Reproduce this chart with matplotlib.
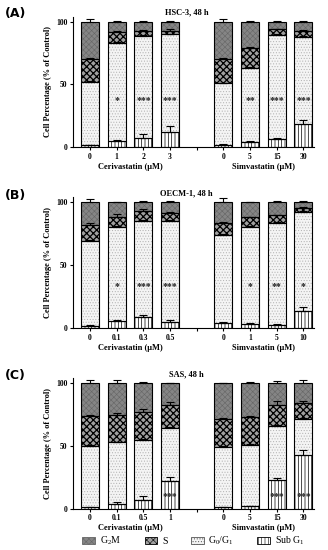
import matplotlib
matplotlib.use("Agg")
import matplotlib.pyplot as plt
import matplotlib.transforms as mtransforms
from matplotlib.patches import Patch
import numpy as np

plt.rcParams["font.family"] = ["Liberation Serif", "DejaVu Serif"]
plt.rcParams["mathtext.default"] = "regular"
plt.rcParams["hatch.linewidth"] = 0.4

positions = [0, 1, 2, 3, 5, 6, 7, 8]

# panel A: HSC-3
title_a = "HSC-3, 48 h"
cer_a = ["0", "1", "2", "3"]
sim_a = ["0", "5", "15", "30"]
sub_a = [1.5, 4.5, 7.5, 12.0, 2.0, 4.0, 6.5, 18.0]
g1_a = [50.5, 78.5, 81.5, 78.0, 49.0, 59.0, 83.0, 70.0]
s_a = [18.0, 8.5, 3.5, 3.0, 19.5, 16.0, 4.5, 5.0]
g2m_a = [30.0, 8.5, 7.5, 7.0, 29.5, 21.0, 6.0, 7.0]
sub_err_a = [0.5, 0.8, 2.5, 4.5, 0.4, 0.6, 0.5, 3.5]
g1_err_a = [0.8, 0.5, 0.5, 0.5, 0.4, 0.5, 0.5, 0.5]
s_err_a = [0.8, 1.0, 0.8, 1.5, 0.5, 1.0, 0.5, 0.5]
g2m_err_a = [2.0, 0.5, 0.3, 0.3, 2.0, 0.5, 0.5, 0.3]
stars_a = ["", "*", "***", "***", "", "**", "***", "***"]

# panel B: OECM-1
title_b = "OECM-1, 48 h"
cer_b = ["0", "0.1", "0.3", "0.5"]
sim_b = ["0", "1", "5", "10"]
sub_b = [2.0, 5.5, 8.5, 5.0, 4.0, 3.5, 2.5, 13.5]
g1_b = [67.0, 75.0, 76.5, 80.0, 70.0, 77.0, 81.0, 78.5]
s_b = [12.5, 8.0, 8.0, 6.0, 9.0, 7.5, 6.0, 3.0]
g2m_b = [18.5, 11.5, 7.0, 9.0, 17.0, 12.0, 10.5, 5.0]
sub_err_b = [0.3, 0.5, 1.5, 1.0, 0.8, 0.8, 0.3, 3.0]
g1_err_b = [0.8, 0.5, 0.5, 0.5, 0.5, 0.5, 0.8, 0.5]
s_err_b = [1.5, 2.0, 1.5, 0.8, 0.8, 0.5, 0.5, 0.8]
g2m_err_b = [2.5, 0.3, 1.0, 0.5, 3.0, 0.3, 0.5, 0.8]
stars_b = ["", "*", "***", "***", "", "*", "**", "*"]

# panel C: SAS
title_c = "SAS, 48 h"
cer_c = ["0", "0.1", "0.5", "1"]
sim_c = ["0", "5", "15", "30"]
sub_c = [1.0, 3.5, 7.0, 22.0, 1.0, 2.0, 23.0, 42.5]
g1_c = [49.0, 49.5, 48.0, 42.5, 48.5, 49.0, 43.0, 29.0]
s_c = [24.0, 22.0, 22.0, 18.5, 22.0, 22.0, 17.0, 13.0]
g2m_c = [26.0, 25.0, 23.0, 17.0, 28.5, 27.0, 17.0, 15.5]
sub_err_c = [0.3, 1.5, 3.0, 3.0, 0.3, 0.5, 1.5, 4.0]
g1_err_c = [0.5, 0.5, 1.0, 1.0, 0.5, 0.5, 1.0, 0.5]
s_err_c = [1.0, 1.0, 2.5, 2.0, 1.0, 1.0, 3.0, 1.5]
g2m_err_c = [2.5, 3.0, 1.0, 0.5, 0.5, 0.8, 1.5, 2.5]
stars_c = ["", "", "", "***", "", "", "***", "***"]

# segment styles: (face, hatch, hatch colour, hatch width)
styles = [
    ("white", "|||||", "black", 0.5),       # Sub G1
    ("#f4f4f4", "......", "#b0b0b0", 0.4),  # G0/G1
    ("#a0a0a0", "xxxxx", "black", 0.9),     # S
    ("#858585", "xxxxxx", "#666666", 0.4),  # G2M
]

W = 0.68


def set_hw(artist, hw):
    if hasattr(artist, "set_hatch_linewidth"):
        artist.set_hatch_linewidth(hw)


def draw_panel(ax, title, cer, sim, segs, errs, stars, star_y):
    x = np.array(positions, dtype=float)
    bottom = np.zeros(len(x))
    tops = []
    for seg, (fc, hatch, hc, hw) in zip(segs, styles):
        seg = np.array(seg)
        with plt.rc_context({"hatch.linewidth": hw}):
            bars = ax.bar(x, seg, W, bottom=bottom, color=fc, hatch=hatch,
                          edgecolor=hc, linewidth=0, zorder=2)
        for b in bars:
            set_hw(b, hw)
        ax.bar(x, seg, W, bottom=bottom, fill=False, edgecolor="black",
               linewidth=0.8, zorder=3)
        bottom = bottom + seg
        tops.append(bottom.copy())
    for top, err in zip(tops, errs):
        ax.errorbar(x, top, yerr=[np.zeros(len(x)), err], fmt="none",
                    ecolor="black", elinewidth=0.8, capsize=3, capthick=0.8,
                    zorder=4)
    for xi, st in zip(x, stars):
        if st:
            ax.text(xi, star_y, st, ha="center", va="center", fontsize=7,
                    fontweight="bold", color="#222222", zorder=5)

    ax.set_xlim(-0.64, 8.4)
    ax.set_ylim(0, 104)
    ax.set_yticks([0, 50, 100])
    ax.set_xticks([0, 1, 2, 3, 4, 5, 6, 7, 8])
    ax.set_xticklabels(cer + [""] + sim)
    ax.tick_params(labelsize=5.5, length=2.5, width=0.8, pad=1.5)
    for lab in ax.get_xticklabels() + ax.get_yticklabels():
        lab.set_fontweight("bold")
    ax.spines["top"].set_visible(False)
    ax.spines["right"].set_visible(False)
    ax.spines["left"].set_linewidth(0.8)
    ax.spines["bottom"].set_linewidth(0.8)
    ax.set_ylabel("Cell Percentage (% of Control)", fontsize=6,
                  fontweight="bold", labelpad=3)
    ax.set_title(title, fontsize=6, fontweight="bold", pad=1, x=0.47)

    trans = mtransforms.blended_transform_factory(ax.transData, ax.transAxes)
    ax.text(1.5, -0.15, "Cerivastatin (\u03bcM)", transform=trans,
            ha="center", va="center", fontsize=6, fontweight="bold")
    ax.text(6.5, -0.15, "Simvastatin (\u03bcM)", transform=trans,
            ha="center", va="center", fontsize=6, fontweight="bold")


fig = plt.figure(figsize=(3.28, 5.5), dpi=100)

ax_a = fig.add_axes([0.2226, 0.7327, 0.735, 0.2369])
ax_b = fig.add_axes([0.2226, 0.4036, 0.735, 0.2382])
ax_c = fig.add_axes([0.2226, 0.0751, 0.735, 0.2370])

draw_panel(ax_a, title_a, cer_a, sim_a,
           [sub_a, g1_a, s_a, g2m_a],
           [sub_err_a, g1_err_a, s_err_a, g2m_err_a], stars_a, 37)
draw_panel(ax_b, title_b, cer_b, sim_b,
           [sub_b, g1_b, s_b, g2m_b],
           [sub_err_b, g1_err_b, s_err_b, g2m_err_b], stars_b, 33)
draw_panel(ax_c, title_c, cer_c, sim_c,
           [sub_c, g1_c, s_c, g2m_c],
           [sub_err_c, g1_err_c, s_err_c, g2m_err_c], stars_c, 9.5)

for letter, ypix in [("(A)", 14), ("(B)", 195), ("(C)", 375)]:
    fig.text(5 / 328, 1 - ypix / 550, letter, fontsize=9, fontweight="bold",
             family="DejaVu Sans", ha="left", va="center")

labels = ["G$_2$M", "S", "G$_0$/G$_1$", "Sub G$_1$"]
order = [3, 2, 1, 0]
handles = []
for i in order:
    fc, hatch, hc, hw = styles[i]
    handles.append(Patch(facecolor=fc, hatch=hatch,
                         edgecolor=hc if i != 1 else "#555555", linewidth=0.6))
fig.legend(handles, labels, loc="center", bbox_to_anchor=(0.59, 1 - 541 / 550),
           ncol=4, frameon=False, fontsize=7, handlelength=1.3, handleheight=0.8,
           handletextpad=0.5, columnspacing=2.4)

fig.savefig("out.png", dpi=100)
